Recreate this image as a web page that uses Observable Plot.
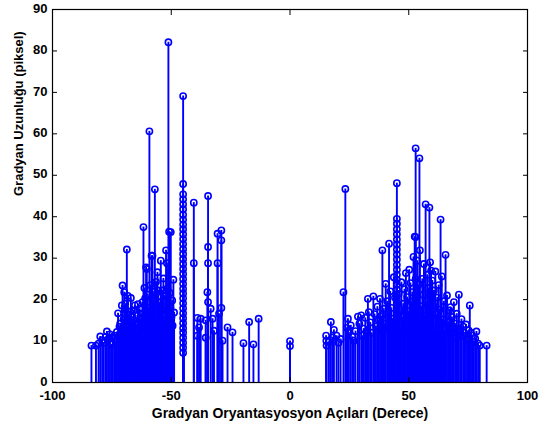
<!DOCTYPE html>
<html>
<head>
<meta charset="utf-8">
<script src="https://cdn.jsdelivr.net/npm/d3@7"></script>
<script src="https://cdn.jsdelivr.net/npm/@observablehq/plot@0.6"></script>
<style>
  body { margin: 0; background: #fff; }
  #chart svg { display: block; }
</style>
</head>
<body>
<div id="chart"></div>
<script>
// Gradient orientation (degrees) and gradient magnitude (pixels) per edge sample.
const leftAngles = [-83.6, -81.7, -80.6, -79.9, -79.1, -78.4, -77.6, -77.1, -76.5, -75.8, -75.2, -74.6, -74.0, -73.4, -72.9, -72.4, -71.8, -71.2, -70.8, -70.5, -70.1, -69.8, -69.4, -68.7, -68.3, -67.9, -67.4, -67.0, -66.6, -66.1, -65.7, -65.3, -64.8, -64.3, -63.8, -63.3, -62.8, -62.4, -62.1, -61.7, -61.3, -60.9, -60.6, -60.3, -59.9, -59.5, -59.2, -58.8, -58.3, -57.9, -57.5, -57.2, -56.9, -56.4, -56.0, -55.8, -55.5, -55.1, -54.7, -54.4, -54.0, -53.7, -53.3, -52.9, -52.6, -52.2, -51.8, -51.5, -51.2, -50.9, -50.6, -50.2, -49.9, -49.6, -49.1, -48.8,
  -71.5, -70.3, -69.1, -68.0, -66.9, -65.9, -65.0, -64.0, -63.0, -61.9, -61.0, -60.0, -58.6, -57.7, -56.6, -55.3, -54.2, -53.5, -52.4, -51.6, -50.4, -49.4];
const leftLengths = [8.9, 8.9, 9.4, 11.1, 10.2, 9.6, 11.0, 12.3, 10.4, 11.6, 9.2, 10.8, 11.3, 9.9, 12.2, 16.7, 13.5, 11.8, 18.6, 23.4, 15.2, 21.8, 19.0, 32.1, 20.9, 14.8, 17.1, 20.4, 15.9, 13.2, 17.4, 18.6, 12.6, 16.2, 14.4, 17.8, 13.6, 16.6, 19.4, 37.5, 22.8, 17.1, 27.8, 27.4, 21.2, 18.0, 60.6, 23.5, 30.6, 30.6, 19.8, 15.6, 46.6, 24.3, 18.4, 26.6, 22.2, 19.4, 16.8, 29.4, 17.6, 22.2, 25.1, 14.9, 20.8, 31.9, 28.8, 17.5, 82.1, 36.4, 21.6, 36.3, 15.8, 19.8, 24.8, 16.9,
  14.2, 12.9, 17.6, 16.3, 12.1, 15.0, 13.9, 18.9, 15.3, 14.7, 20.3, 16.2, 17.3, 21.9, 14.0, 15.2, 20.6, 18.3, 16.1, 22.7, 18.2, 13.7];

const diagNegLengths = [7.2, 8.4, 9.6, 10.8, 12.0, 13.1, 14.3, 15.5, 16.7, 17.9, 19.1, 20.3, 21.5, 22.6, 23.8, 25.0, 26.2, 27.4, 28.6, 29.8, 31.0, 32.2, 33.4, 34.6, 35.8, 37.0, 38.1, 39.3, 40.5, 41.8, 43.0, 44.2, 45.4, 47.9, 69.1];

const midAngles = [-40.5, -40.5, -39.0, -39.0, -38.3, -37.6, -35.5, -35.5, -34.8, -34.5, -34.5, -34.5, -34.5, -33.4, -32.6, -32.0, -30.5, -30.5, -29.9, -28.9, -28.9, -28.9, -28.4, -26.3, -24.2, -19.6, -17.2, -15.4, -13.2, 0, 0];
const midLengths = [43.4, 28.8, 15.6, 11.3, 13.3, 15.4, 15.0, 10.8, 21.8, 45.0, 32.7, 28.8, 19.4, 17.8, 15.4, 12.5, 35.9, 28.8, 16.6, 36.7, 34.3, 18.0, 10.1, 13.3, 12.1, 9.5, 14.6, 9.2, 15.4, 10.0, 8.8];

const rightAngles = [15.2, 15.3, 15.4, 16.4, 17.2, 17.9, 18.5, 19.6, 20.4, 21.3, 22.5, 23.3, 23.9, 24.4, 24.8, 25.6, 26.3, 26.9, 27.6, 28.6, 29.2, 30.0, 30.5, 31.1, 31.7, 32.3, 32.8, 33.2, 33.8, 34.4, 35.1, 35.6, 36.2, 36.8, 37.4, 37.9, 38.4, 38.9, 39.5, 40.0, 40.3, 40.9, 41.4, 41.7, 42.2, 42.7, 43.2, 43.7, 44.2, 45.8, 46.3, 46.9, 47.4, 47.7, 48.2, 48.8, 49.3, 49.8, 50.2, 50.7, 51.2, 51.5, 52.0, 52.5, 52.9, 52.9, 52.9, 53.4, 53.6, 54.1, 54.5, 54.7, 55.2, 55.7, 56.1, 56.4, 57.1, 57.4, 57.8, 58.2, 58.7, 59.0, 59.4, 59.9, 60.3, 60.6, 61.2, 61.6, 62.0, 62.6, 63.0, 63.4, 63.9, 64.4, 64.8, 65.5, 66.1, 66.6, 67.0, 67.6, 68.2, 68.6, 69.0, 69.6, 70.2, 70.7, 71.1, 71.7, 72.2, 72.9, 73.5, 74.1, 74.7, 75.2, 75.7, 76.2, 76.7, 77.4, 78.0, 78.5, 79.2, 79.9, 82.8,
  39.2, 42.0, 46.6, 48.5, 50.0, 51.8, 54.9, 56.8, 58.5, 61.0, 63.7, 65.2, 67.3, 70.0, 73.2];
const rightLengths = [11.3, 10.1, 8.9, 9.8, 14.6, 10.9, 12.7, 11.3, 9.6, 10.5, 21.8, 46.7, 13.2, 15.4, 12.1, 13.8, 11.0, 10.1, 12.4, 15.9, 14.2, 16.2, 11.3, 13.0, 15.6, 12.2, 20.2, 17.0, 14.5, 12.0, 20.8, 16.5, 13.6, 18.3, 15.1, 20.2, 16.0, 31.9, 17.8, 14.2, 23.8, 19.6, 16.8, 33.5, 22.0, 18.0, 15.4, 25.4, 20.5, 21.4, 17.3, 24.2, 15.8, 19.0, 22.5, 26.4, 20.6, 17.2, 27.2, 24.0, 19.5, 21.8, 30.3, 35.2, 56.5, 35.1, 25.0, 20.8, 29.4, 23.6, 54.1, 31.9, 18.4, 25.0, 21.2, 28.6, 43.0, 19.6, 26.0, 22.8, 42.2, 29.0, 27.0, 24.6, 18.6, 22.2, 26.8, 16.4, 20.5, 23.5, 17.6, 39.3, 25.6, 15.2, 19.6, 30.8, 21.0, 14.6, 17.4, 18.2, 15.8, 13.4, 19.4, 14.2, 16.6, 12.4, 21.2, 12.8, 15.3, 13.5, 11.2, 14.0, 10.4, 12.6, 18.6, 12.0, 11.3, 9.8, 10.6, 12.3, 9.4, 8.9, 8.9,
  12.5, 13.6, 12.8, 14.9, 12.2, 15.7, 14.3, 16.1, 13.9, 12.6, 14.1, 12.5, 11.9, 10.9, 12.1];

const diagPosLengths = [48.1, 39.5, 38.3, 37.0, 35.8, 34.5, 33.3, 32.1, 30.9, 29.7, 28.4, 27.2, 26.0, 24.8, 23.6, 22.4, 21.2, 20.0, 18.8, 17.6, 16.4, 15.2, 14.0, 12.8, 11.6, 10.4, 9.2, 8.0, 7.0];

const xTicks = [-100, -50, 0, 50, 100];
const yTicks = [0, 10, 20, 30, 40, 50, 60, 70, 80, 90];
const xTitle = "Gradyan Oryantasyosyon Açıları (Derece)";
const yTitle = "Gradyan Uzunluğu (piksel)";

const pair = (angles, lengths) => angles.map((a, i) => ({angle: a, length: lengths[i]}));
const samples = [
  ...pair(leftAngles, leftLengths),
  ...diagNegLengths.map(l => ({angle: -45, length: l})),
  ...pair(midAngles, midLengths),
  ...diagPosLengths.map(l => ({angle: 45, length: l})),
  ...pair(rightAngles, rightLengths)
];

const blue = "#0000ff";
const fmt = d => String(d);
const blank = () => "";

const chart = Plot.plot({
  width: 548,
  height: 426,
  marginTop: 9,
  marginRight: 21,
  marginBottom: 44,
  marginLeft: 52,
  style: {
    fontFamily: "'Liberation Sans', Arial, sans-serif",
    fontSize: "13px",
    fontWeight: "bold",
    background: "#fff",
    color: "#000"
  },
  x: {domain: [-100, 100]},
  y: {domain: [0, 90]},
  marks: [
    // stems
    Plot.ruleX(samples, {x: "angle", y1: 0, y2: "length", stroke: blue, strokeWidth: 1.9}),
    // open circle markers
    Plot.dot(samples, {x: "angle", y: "length", r: 3.1, stroke: blue, strokeWidth: 1.6, fill: "none"}),
    // axes: labels on bottom/left, inward ticks on all four sides
    Plot.axisX({anchor: "bottom", ticks: xTicks, tickSize: 0, tickPadding: 8, tickFormat: fmt,
      label: null}),
    Plot.axisY({anchor: "left", ticks: yTicks, tickSize: 0, tickPadding: 5, dy: -1, tickFormat: fmt,
      label: null}),
    Plot.axisX({anchor: "bottom", ticks: xTicks, tickSize: -5, tickFormat: blank, label: null}),
    Plot.axisX({anchor: "top", ticks: xTicks, tickSize: -5, tickFormat: blank, label: null}),
    Plot.axisY({anchor: "left", ticks: yTicks, tickSize: -5, tickFormat: blank, label: null}),
    Plot.axisY({anchor: "right", ticks: yTicks, tickSize: -5, tickFormat: blank, label: null}),
    // axis titles
    Plot.text([xTitle], {frameAnchor: "bottom", dy: 31, text: d => d, fontSize: 14, lineAnchor: "middle"}),
    Plot.text([yTitle], {frameAnchor: "left", dx: -34, text: d => d, fontSize: 13, rotate: -90, lineAnchor: "middle"}),
    Plot.frame({stroke: "#000", strokeWidth: 1.2})
  ]
});

document.getElementById("chart").appendChild(chart);
</script>
</body>
</html>
